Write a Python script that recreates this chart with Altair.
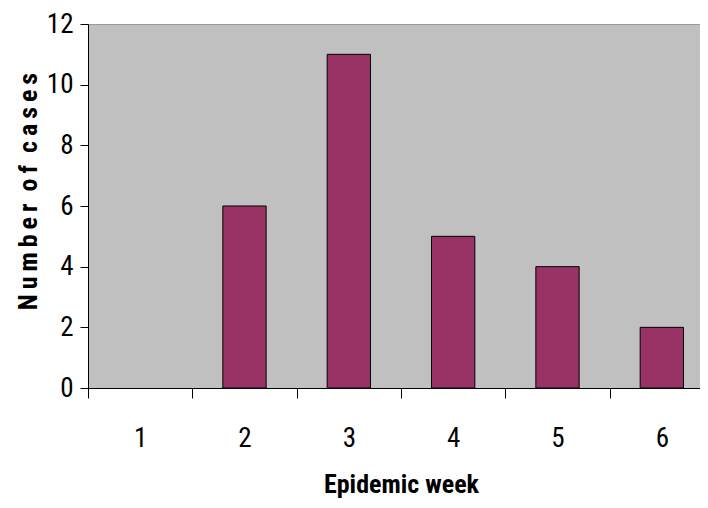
import altair as alt
import pandas as pd

weeks = ["1", "2", "3", "4", "5", "6"]
cases = [0, 6, 11, 5, 4, 2]
y_ticks = [0, 2, 4, 6, 8, 10, 12]

df = pd.DataFrame({"week": weeks, "cases": cases})

W = 612          # visible plot area (page is 708 wide)
BAND_RANGE = 626  # x scale range, extends to the right page edge as in the reference
H = 364
step = BAND_RANGE / len(weeks)
FONT = "Liberation Sans Narrow, Arial Narrow, Roboto Condensed, Roboto, sans-serif"

ts = "\u2009"
ytitle = ts.join("Number") + "\u00a0\u00a0" + ts.join("of") + "\u00a0\u00a0" + ts.join("cases")

chart = alt.Chart(df).mark_bar(
    color="#993366", stroke="#000000",
    width=alt.RelativeBandSize(0.415)
).encode(
    x=alt.X("week:O", sort=weeks,
            scale=alt.Scale(paddingInner=0, paddingOuter=0, range=[0, BAND_RANGE]),
            axis=alt.Axis(title="Epidemic week", labelAngle=0,
                          labelFont=FONT, labelFontSize=27, labelColor="#000000",
                          labelBaseline="top", labelPadding=27,
                          tickOffset=-step / 2, labelOffset=step / 2,
                          tickSize=10, tickColor="#000000", tickWidth=1,
                          domainColor="#000000", domainWidth=1,
                          titleFont=FONT, titleFontSize=26, titleFontWeight="bold",
                          titleColor="#000000", titleBaseline="alphabetic",
                          titleX=BAND_RANGE / 2, titleY=104)),
    y=alt.Y("cases:Q", scale=alt.Scale(domain=[0, 12], nice=False),
            axis=alt.Axis(title=ytitle, values=y_ticks,
                          grid=False, labelFont=FONT, labelFontSize=27,
                          labelColor="#000000", labelPadding=7,
                          tickSize=8, tickColor="#000000", tickWidth=1,
                          domainColor="#000000", domainWidth=1,
                          titleFont=FONT, titleFontSize=26, titleFontWeight="bold",
                          titleColor="#000000", titleBaseline="alphabetic",
                          titleX=-52, titleY=167, titleAngle=270)),
    strokeWidth=alt.condition(alt.datum.cases > 0, alt.value(1), alt.value(0)),
).properties(
    width=W, height=H,
    autosize=alt.AutoSizeParams(type="none"),
    padding={"left": 80, "top": 16, "right": 0, "bottom": 112},
    background="#FFFFFF",
).configure_view(
    fill="#C0C0C0", stroke="#9a9a9a", strokeWidth=1
)

chart.save("out.html", embed_options={"renderer": "svg", "actions": False})
